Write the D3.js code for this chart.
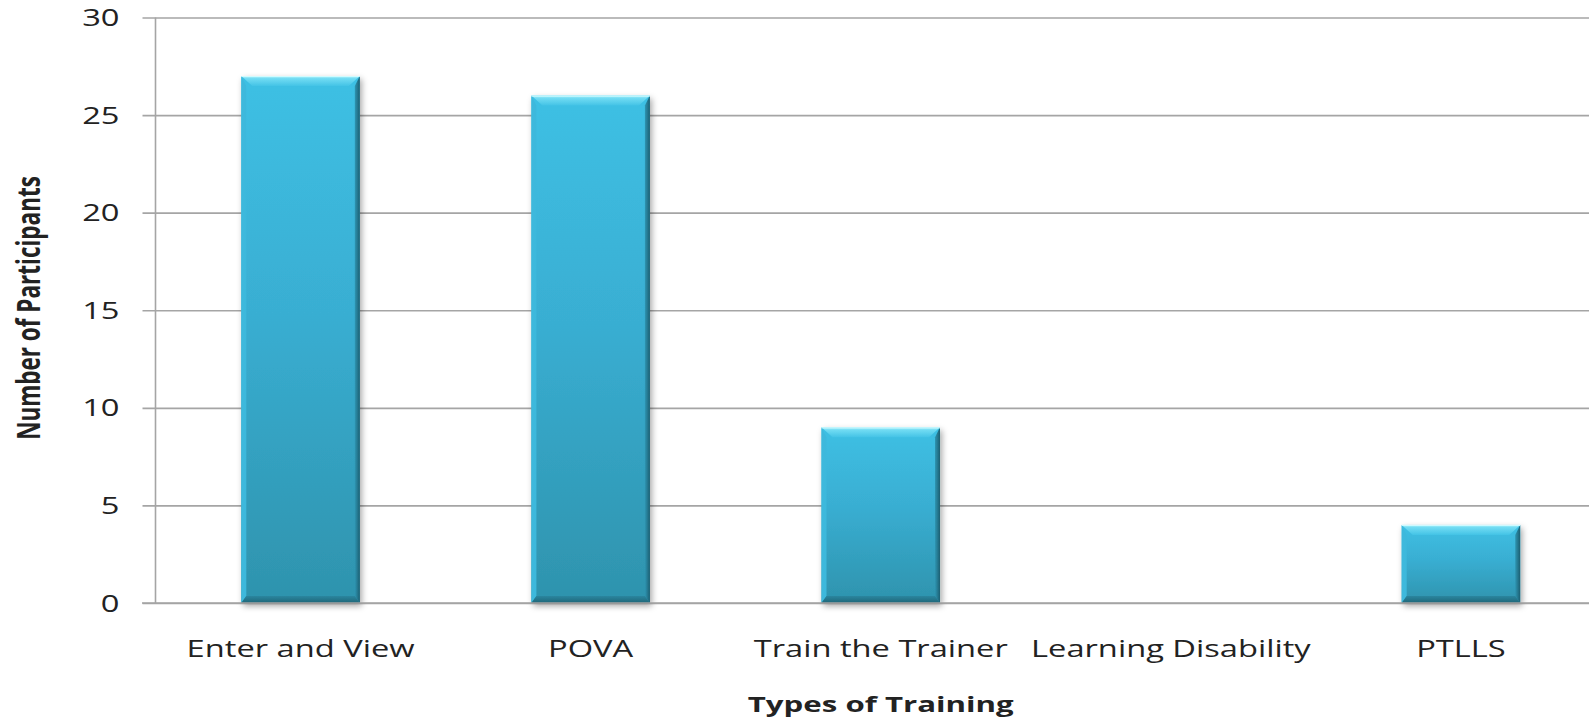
<!DOCTYPE html>
<html>
<head>
<meta charset="utf-8">
<script src="https://cdn.jsdelivr.net/npm/d3@7/dist/d3.min.js"></script>
<style>
  html, body { margin: 0; padding: 0; background: #ffffff; overflow: hidden; }
  svg { display: block; }
  text { font-family: "Open Sans", "Noto Sans", sans-serif; fill: #222222; }
</style>
</head>
<body>
<svg id="chart" width="1589" height="723"></svg>
<script>
// Training attendance by type
const categories = ["Enter and View", "POVA", "Train the Trainer", "Learning Disability", "PTLLS"];
const participants = [27, 26, 9, 0, 4];
const yTicks = [0, 5, 10, 15, 20, 25, 30];
const xTitle = "Types of Training";
const yTitle = "Number of Participants";

const W = 1589, H = 723;
const svg = d3.select("#chart");

const x = d3.scaleBand().domain(categories).range([155.5, 1606]).padding(0);
const y = d3.scaleLinear().domain([0, 30]).range([603, 17.5]);
const barW = x.bandwidth() * 0.4085;
const stretch = 1.42; // wide lettering used throughout the chart

// ---- gradients & shadow for the bevelled bars ----
const defs = svg.append("defs");
function vGrad(id, stops) {
  const g = defs.append("linearGradient").attr("id", id)
    .attr("x1", 0).attr("y1", 0).attr("x2", 0).attr("y2", 1);
  stops.forEach(s => g.append("stop").attr("offset", s[0]).attr("stop-color", s[1]));
}
function hGrad(id, stops) {
  const g = defs.append("linearGradient").attr("id", id)
    .attr("x1", 0).attr("y1", 0).attr("x2", 1).attr("y2", 0);
  stops.forEach(s => g.append("stop").attr("offset", s[0]).attr("stop-color", s[1]));
}
vGrad("body", [[0, "#3ec0e4"], [0.45, "#39aed2"], [1, "#2e93ad"]]);
vGrad("bevelTop", [[0, "#b4f4fd"], [0.25, "#72dcf3"], [1, "#43c3e6"]]);
vGrad("bevelBottom", [[0, "#2a869f"], [1, "#1f6678"]]);
hGrad("bevelLeft", [[0, "#3fb9dc"], [1, "#3cb8dc"]]);
hGrad("bevelRight", [[0, "#2e95b2"], [1, "#1c5f72"]]);

const shadow = defs.append("filter").attr("id", "shadow")
  .attr("x", "-10%").attr("y", "-10%").attr("width", "125%").attr("height", "125%");
shadow.append("feDropShadow").attr("dx", 2).attr("dy", 3).attr("stdDeviation", 3)
  .attr("flood-color", "#000").attr("flood-opacity", 0.35);

// ---- gridlines and y axis ----
const yAxis = d3.axisLeft(y).tickValues(yTicks).tickSize(13).tickPadding(23);
const gy = svg.append("g").attr("transform", "translate(155.5,0)").call(yAxis);
gy.select(".domain").remove();
gy.selectAll(".tick line").attr("stroke", "#a5a5a5").attr("stroke-width", 1.6)
  .attr("x1", -13).attr("x2", W - 155.5);
gy.selectAll(".tick text")
  .attr("font-family", "'Open Sans', sans-serif").attr("font-size", 23).attr("fill", "#2a2a2a")
  .attr("x", null).attr("dy", "0.35em")
  .attr("transform", `translate(-36,0) scale(${stretch},1)`);

svg.append("line")
  .attr("x1", 155.5).attr("x2", 155.5).attr("y1", y(30)).attr("y2", y(0))
  .attr("stroke", "#a5a5a5").attr("stroke-width", 1.6);

// ---- bars ----
const bt = 10, bs = 5, bb = 7;
const bars = svg.append("g").selectAll("g.bar")
  .data(categories.map((c, i) => ({ c, v: participants[i] })).filter(d => d.v > 0))
  .join("g").attr("class", "bar");

bars.each(function (d) {
  const g = d3.select(this);
  const x0 = x(d.c) + (x.bandwidth() - barW) / 2, x1 = x0 + barW;
  const y0 = y(d.v), y1 = y(0);
  g.append("rect").attr("x", x0).attr("y", y0).attr("width", barW).attr("height", y1 - y0)
    .attr("fill", "url(#body)").attr("filter", "url(#shadow)");
  const poly = (pts, fill) => g.append("polygon").attr("points", pts.map(p => p.join(",")).join(" ")).attr("fill", fill);
  poly([[x0, y0], [x0 + bs, y0 + bt], [x0 + bs, y1 - bb], [x0, y1]], "url(#bevelLeft)");
  poly([[x1, y0], [x1, y1], [x1 - bs, y1 - bb], [x1 - bs, y0 + bt]], "url(#bevelRight)");
  poly([[x0, y1], [x0 + bs, y1 - bb], [x1 - bs, y1 - bb], [x1, y1]], "url(#bevelBottom)");
  poly([[x0, y0], [x1, y0], [x1 - bs * 2.2, y0 + bt], [x0 + bs * 2.2, y0 + bt]], "url(#bevelTop)");
  g.append("line").attr("x1", x0).attr("x2", x1).attr("y1", y0 + 0.5).attr("y2", y0 + 0.5)
    .attr("stroke", "#d2fbff").attr("stroke-width", 1);
});

// ---- x axis line and category labels ----
svg.append("line")
  .attr("x1", 142).attr("x2", W).attr("y1", y(0)).attr("y2", y(0))
  .attr("stroke", "#a5a5a5").attr("stroke-width", 1.6);

const xAxis = d3.axisBottom(x).tickSize(0).tickPadding(0);
const gx = svg.append("g").attr("transform", `translate(0,${y(0)})`).call(xAxis);
gx.select(".domain").remove();
gx.selectAll(".tick text")
  .attr("font-family", "'Open Sans', sans-serif").attr("font-size", 23).attr("fill", "#222222")
  .attr("y", null).attr("dy", null)
  .attr("transform", `translate(0,54) scale(${stretch},1)`);

// ---- axis titles ----
svg.append("text")
  .attr("transform", `translate(${(x.range()[0] + x.range()[1]) / 2},712) scale(${stretch},1)`)
  .attr("text-anchor", "middle").attr("font-size", 22).attr("font-weight", 700)
  .attr("fill", "#111111").text(xTitle);

svg.append("text")
  .attr("transform", `translate(40,308) rotate(-90) scale(1,${stretch})`)
  .attr("text-anchor", "middle").attr("font-size", 22.5).attr("font-weight", 700)
  .attr("fill", "#1a1a1a").text(yTitle);
</script>
</body>
</html>
